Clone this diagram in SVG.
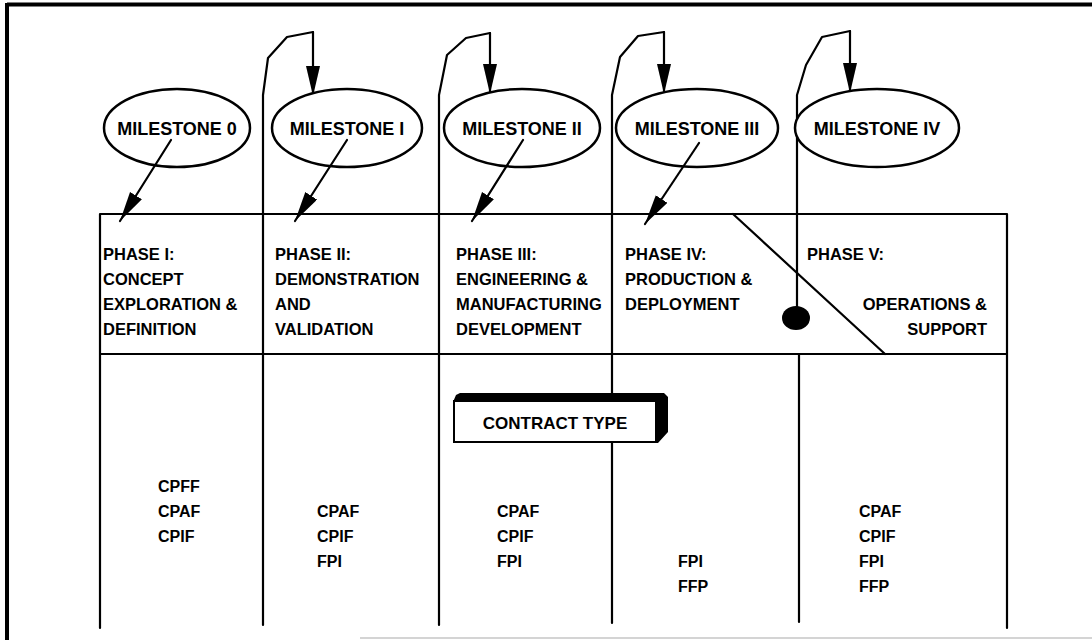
<svg xmlns="http://www.w3.org/2000/svg" width="1092" height="640" viewBox="0 0 1092 640">
<style>
.ln{fill:none;stroke:#000;stroke-width:2.2;stroke-linejoin:round;stroke-linecap:round}
.ell{fill:#fff;stroke:#000;stroke-width:2.5}
.mt{font-family:"Liberation Sans",Arial,sans-serif;font-weight:bold;font-size:18px;fill:#000;text-anchor:middle}
.ht{font-family:"Liberation Sans",Arial,sans-serif;font-weight:bold;font-size:16.5px;fill:#000}
.ct{font-family:"Liberation Sans",Arial,sans-serif;font-weight:bold;font-size:16px;fill:#000}
</style>
<defs>
<marker id="ah" markerUnits="userSpaceOnUse" markerWidth="32" markerHeight="16" refX="30" refY="7" orient="auto">
<path d="M0,0 L30,7 L0,14 Z" fill="#000"/>
</marker>
</defs>
<rect width="1092" height="640" fill="#fff"/>
<g id="frame">
<line x1="7" y1="4.5" x2="1092" y2="4.5" stroke="#000" stroke-width="4"/>
<line x1="7" y1="3" x2="7" y2="640" stroke="#000" stroke-width="4"/>
<line x1="360" y1="638" x2="1092" y2="638" stroke="#d4d4d4" stroke-width="2"/>
</g>
<g id="table">
<path class="ln" d="M100,628 L100,214 L1007,214 L1007,628"/>
<line class="ln" x1="100" y1="354" x2="1007" y2="354"/>
<line class="ln" x1="733" y1="214" x2="885" y2="354"/>
<line class="ln" x1="799" y1="354" x2="799" y2="622"/>
<ellipse cx="796" cy="318" rx="14" ry="12" fill="#000"/>
</g>
<g id="connectors">
<path class="ln" d="M263,625 L263,95 L268,58 L287,37 L313,32"/>
<path class="ln" d="M439,625 L439,95 L447,55 L466,38 L490,33"/>
<path class="ln" d="M612,623 L612,95 L620,57 L638,36 L664,32"/>
<path class="ln" d="M797,318 L797,95 L806,65 L822,37 L850,31"/>
<line class="ln" x1="313" y1="32" x2="313" y2="96" marker-end="url(#ah)"/>
<line class="ln" x1="490" y1="33" x2="490" y2="94" marker-end="url(#ah)"/>
<line class="ln" x1="664" y1="32" x2="664" y2="94" marker-end="url(#ah)"/>
<line class="ln" x1="850" y1="31" x2="850" y2="93" marker-end="url(#ah)"/>
</g>
<g id="m0"><ellipse class="ell" cx="177" cy="128" rx="73" ry="39"/><text class="mt" x="177" y="135">MILESTONE 0</text></g>
<g id="m1"><ellipse class="ell" cx="347" cy="128" rx="75" ry="39"/><text class="mt" x="347" y="135">MILESTONE I</text></g>
<g id="m2"><ellipse class="ell" cx="522" cy="128" rx="78" ry="39"/><text class="mt" x="522" y="135">MILESTONE II</text></g>
<g id="m3"><ellipse class="ell" cx="697" cy="128" rx="81" ry="39"/><text class="mt" x="697" y="135">MILESTONE III</text></g>
<g id="m4"><ellipse class="ell" cx="877" cy="128" rx="82" ry="39"/><text class="mt" x="877" y="135">MILESTONE IV</text></g>
<g id="diag-arrows">
<line class="ln" x1="171" y1="140" x2="120" y2="221" marker-end="url(#ah)"/>
<line class="ln" x1="347" y1="140" x2="295" y2="221" marker-end="url(#ah)"/>
<line class="ln" x1="523" y1="140" x2="472" y2="221" marker-end="url(#ah)"/>
<line class="ln" x1="699" y1="143" x2="645" y2="224" marker-end="url(#ah)"/>
</g>
<g id="p1"><text class="ht" x="103" y="260">PHASE I:</text><text class="ht" x="103" y="285">CONCEPT</text><text class="ht" x="103" y="310">EXPLORATION &amp;</text><text class="ht" x="103" y="335">DEFINITION</text></g>
<g id="p2"><text class="ht" x="275" y="260">PHASE II:</text><text class="ht" x="275" y="285">DEMONSTRATION</text><text class="ht" x="275" y="310">AND</text><text class="ht" x="275" y="335">VALIDATION</text></g>
<g id="p3"><text class="ht" x="456" y="260">PHASE III:</text><text class="ht" x="456" y="285">ENGINEERING &amp;</text><text class="ht" x="456" y="310">MANUFACTURING</text><text class="ht" x="456" y="335">DEVELOPMENT</text></g>
<g id="p4"><text class="ht" x="625" y="260">PHASE IV:</text><text class="ht" x="625" y="285">PRODUCTION &amp;</text><text class="ht" x="625" y="310">DEPLOYMENT</text></g>
<g id="p5"><text class="ht" x="807" y="260">PHASE V:</text><text class="ht" x="987" y="310" text-anchor="end">OPERATIONS &amp;</text><text class="ht" x="987" y="335" text-anchor="end">SUPPORT</text></g>
<g id="contract-type">
<path d="M453,402 L456,395 L460,393 L664,393 L668,397 L668,432 L658,443 L655,443 L655,402 Z" fill="#000"/>
<rect x="454" y="401" width="202" height="41" fill="#fff" stroke="#000" stroke-width="2"/>
<text class="ct" x="555" y="429" text-anchor="middle" style="font-size:17px">CONTRACT TYPE</text>
</g>
<g id="c1"><text class="ct" x="158" y="492">CPFF</text><text class="ct" x="158" y="517">CPAF</text><text class="ct" x="158" y="542">CPIF</text></g>
<g id="c2"><text class="ct" x="317" y="517">CPAF</text><text class="ct" x="317" y="542">CPIF</text><text class="ct" x="317" y="567">FPI</text></g>
<g id="c3"><text class="ct" x="497" y="517">CPAF</text><text class="ct" x="497" y="542">CPIF</text><text class="ct" x="497" y="567">FPI</text></g>
<g id="c4"><text class="ct" x="678" y="567">FPI</text><text class="ct" x="678" y="592">FFP</text></g>
<g id="c5"><text class="ct" x="859" y="517">CPAF</text><text class="ct" x="859" y="542">CPIF</text><text class="ct" x="859" y="567">FPI</text><text class="ct" x="859" y="592">FFP</text></g>
</svg>
